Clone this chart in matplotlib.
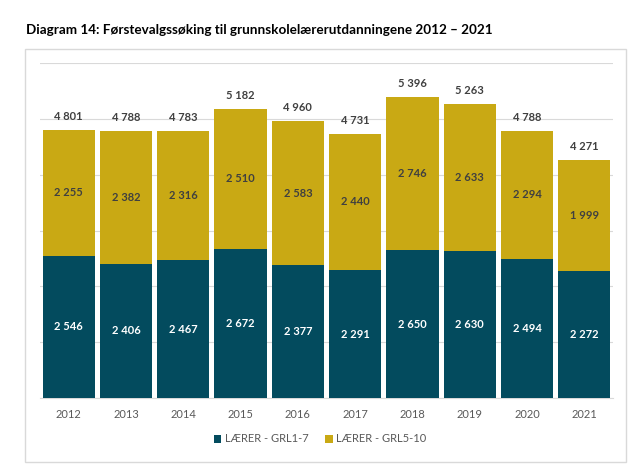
import numpy as np
import matplotlib.pyplot as plt
from matplotlib.patches import Rectangle

years = ["2012", "2013", "2014", "2015", "2016", "2017", "2018", "2019", "2020", "2021"]
grl1_7 = [2546, 2406, 2467, 2672, 2377, 2291, 2650, 2630, 2494, 2272]
grl5_10 = [2255, 2382, 2316, 2510, 2583, 2440, 2746, 2633, 2294, 1999]
totals = [4801, 4788, 4783, 5182, 4960, 4731, 5396, 5263, 4788, 4271]

teal = "#034B5E"
gold = "#C9A914"
label_dark = "#404040"

plt.rcParams['font.family'] = ['Lato', 'DejaVu Sans']


def fmt(v):
    # thousands separated by a space, Norwegian style
    return f"{v:,}".replace(",", " ")


fig = plt.figure(figsize=(6.4, 4.76), dpi=100)
fig.text(26 / 640, 1 - 30 / 476, "Diagram 14: Førstevalgssøking til grunnskolelærerutdanningene 2012 – 2021",
         fontsize=9.7, fontweight='bold', color='black', va='center', ha='left')

# frame around the chart area
fig.patches.append(Rectangle((25 / 640, 1 - 462 / 476), 601 / 640, 413 / 476,
                             transform=fig.transFigure, fill=False,
                             edgecolor='#d9d9d9', linewidth=1.0))

ax = fig.add_axes([40 / 640, 1 - 398 / 476, 573 / 640, 335 / 476])
x = np.arange(len(years))
width = 0.91

ax.bar(x, grl1_7, width, color=teal, label="LÆRER - GRL1-7", zorder=3)
ax.bar(x, grl5_10, width, bottom=grl1_7, color=gold, label="LÆRER - GRL5-10", zorder=3)

for i in range(len(years)):
    ax.text(x[i], grl1_7[i] / 2, fmt(grl1_7[i]), ha='center', va='center',
            color='white', fontsize=8, fontweight='bold', zorder=4)
    ax.text(x[i], grl1_7[i] + grl5_10[i] / 2, fmt(grl5_10[i]), ha='center', va='center',
            color=label_dark, fontsize=8, fontweight='bold', zorder=4)
    ax.text(x[i], totals[i] + 140, fmt(totals[i]), ha='center', va='bottom',
            color=label_dark, fontsize=8, fontweight='bold', zorder=4)

ax.set_xlim(-0.5, len(years) - 0.5)
ax.set_ylim(0, 6000)
ax.set_yticks(np.arange(0, 6001, 1000))
ax.yaxis.grid(True, color='#d9d9d9', linewidth=0.8, zorder=0)
ax.set_yticklabels([])
ax.tick_params(axis='y', length=0)
ax.set_xticks(x)
ax.set_xticklabels(years, fontsize=8, color='#595959')
ax.tick_params(axis='x', length=0, pad=8)
for s in ['top', 'right', 'left']:
    ax.spines[s].set_visible(False)
ax.spines['bottom'].set_color('#d9d9d9')

leg = fig.legend(loc='center', bbox_to_anchor=(0.5, 1 - 439 / 476), ncol=2, frameon=False,
                 fontsize=8, handlelength=0.7, handleheight=0.7, handletextpad=0.3,
                 columnspacing=1.5)
for t in leg.get_texts():
    t.set_color('#595959')

fig.savefig("out.png", dpi=100)
